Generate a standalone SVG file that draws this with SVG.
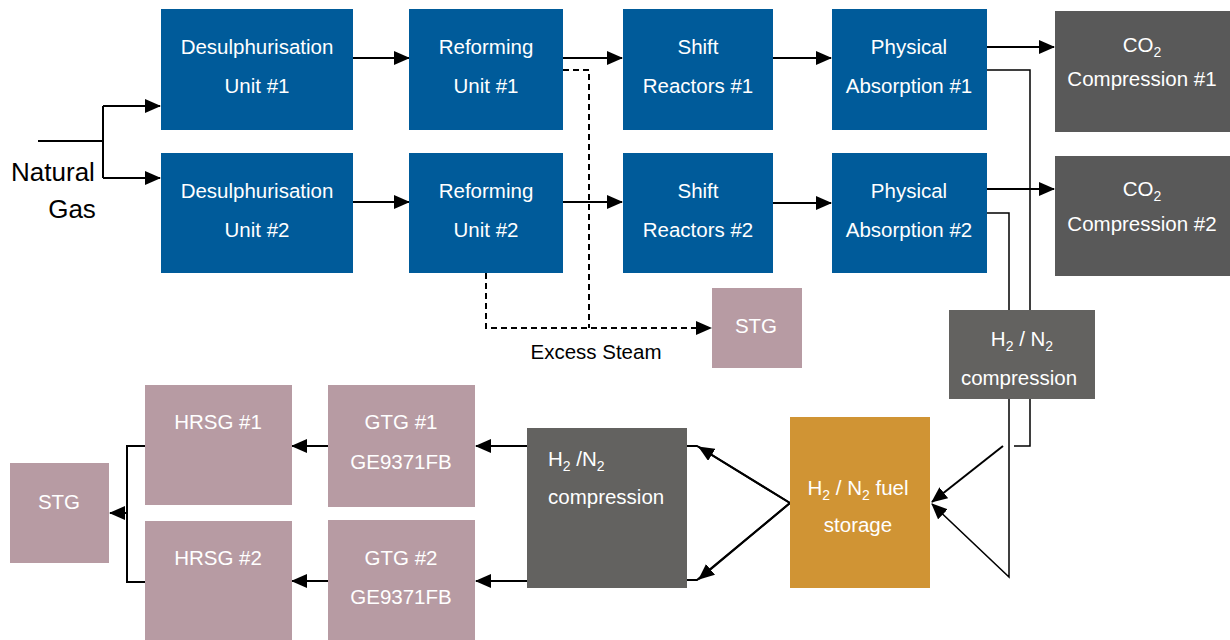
<svg xmlns="http://www.w3.org/2000/svg" width="1230" height="640" viewBox="0 0 1230 640">
<defs>
<marker id="ah" markerUnits="userSpaceOnUse" markerWidth="16" markerHeight="14" refX="15" refY="7" orient="auto">
<path d="M0,0 L16,7 L0,14 Z" fill="#000"/>
</marker>
<style>
.c{fill:none;stroke:#000;stroke-width:2}
.t{stroke-width:1.5}
.d{stroke-dasharray:6,4}
.b{fill:#005B9A}
.g{fill:#595959}
.g2{fill:#636260}
.p{fill:#B79BA3}
.o{fill:#D09434}
text{font-family:"Liberation Sans",Arial,sans-serif;font-size:20.5px;fill:#fff;text-anchor:middle}
.s{font-size:14px}
.k{fill:#000}
.l{text-anchor:start}
.n{font-size:26px}
</style>
</defs>
<rect width="1230" height="640" fill="#fff"/>
<g id="connectors">
<path class="c" d="M38,141 L103,141"/>
<path class="c" d="M103,106 L103,178"/>
<path class="c" d="M103,106 L160,106" marker-end="url(#ah)"/>
<path class="c" d="M103,178 L160,178" marker-end="url(#ah)"/>
<path class="c" d="M353,58 L409,58" marker-end="url(#ah)"/>
<path class="c" d="M353,202 L409,202" marker-end="url(#ah)"/>
<path class="c" d="M563,58 L622,58" marker-end="url(#ah)"/>
<path class="c" d="M563,202 L622,202" marker-end="url(#ah)"/>
<path class="c" d="M773,58 L831,58" marker-end="url(#ah)"/>
<path class="c" d="M773,203 L831,203" marker-end="url(#ah)"/>
<path class="c" d="M987,47 L1054,47" marker-end="url(#ah)"/>
<path class="c" d="M987,189 L1054,189" marker-end="url(#ah)"/>
<path class="c d" d="M563,70 L589,70 L589,328"/>
<path class="c d" d="M486,273 L486,328 L711,328" marker-end="url(#ah)"/>
<path class="c t" d="M987,70 L1030,70 L1030,446 L1014,446"/>
<path class="c t" d="M987,213 L1009,213 L1009,577 L932,504" marker-end="url(#ah)"/>
<path class="c" d="M1003,446 L932,502" marker-end="url(#ah)"/>
<path class="c" d="M790,503 L697,446 L687,446"/>
<path class="c" d="M790,503 L697,580 L687,580"/>
<path class="c" d="M790,503 L699,447" marker-end="url(#ah)"/>
<path class="c" d="M790,503 L699,579" marker-end="url(#ah)"/>
<path class="c" d="M527,446 L476,446" marker-end="url(#ah)"/>
<path class="c" d="M527,581 L476,581" marker-end="url(#ah)"/>
<path class="c" d="M328,446 L292,446" marker-end="url(#ah)"/>
<path class="c" d="M328,581 L292,581" marker-end="url(#ah)"/>
<path class="c" d="M145,446 L127,446 L127,582 L145,582"/>
<path class="c" d="M127,513 L110,513" marker-end="url(#ah)"/>
</g>
<g id="natural-gas"><text class="k n" x="53" y="181">Natural</text><text class="k n" x="72" y="218">Gas</text></g>
<g id="desulph1"><rect class="b" x="161" y="9" width="192" height="121"/><text x="257" y="54">Desulphurisation</text><text x="257" y="93">Unit #1</text></g>
<g id="desulph2"><rect class="b" x="161" y="153" width="192" height="120"/><text x="257" y="198">Desulphurisation</text><text x="257" y="237">Unit #2</text></g>
<g id="reform1"><rect class="b" x="409" y="9" width="154" height="121"/><text x="486" y="54">Reforming</text><text x="486" y="93">Unit #1</text></g>
<g id="reform2"><rect class="b" x="409" y="153" width="154" height="120"/><text x="486" y="198">Reforming</text><text x="486" y="237">Unit #2</text></g>
<g id="shift1"><rect class="b" x="623" y="9" width="150" height="121"/><text x="698" y="54">Shift</text><text x="698" y="93">Reactors #1</text></g>
<g id="shift2"><rect class="b" x="623" y="153" width="150" height="120"/><text x="698" y="198">Shift</text><text x="698" y="237">Reactors #2</text></g>
<g id="phys1"><rect class="b" x="832" y="9" width="155" height="121"/><text x="909" y="54">Physical</text><text x="909" y="93">Absorption #1</text></g>
<g id="phys2"><rect class="b" x="832" y="153" width="155" height="120"/><text x="909" y="198">Physical</text><text x="909" y="237">Absorption #2</text></g>
<g id="co2-1"><rect class="g" x="1055" y="11" width="175" height="121"/><text x="1142" y="52">CO<tspan class="s" dy="5">2</tspan></text><text x="1142" y="86">Compression #1</text></g>
<g id="co2-2"><rect class="g" x="1055" y="156" width="175" height="120"/><text x="1142" y="196">CO<tspan class="s" dy="5">2</tspan></text><text x="1142" y="231">Compression #2</text></g>
<g id="stg-small"><rect class="p" x="712" y="288" width="90" height="80"/><text x="756" y="333">STG</text></g>
<g id="excess-steam"><text class="k" x="596" y="359">Excess Steam</text></g>
<g id="h2n2-comp-right"><rect class="g2" x="949" y="310" width="146" height="89"/><text x="1022" y="346">H<tspan class="s" dy="5">2</tspan><tspan dy="-5"> / N</tspan><tspan class="s" dy="5">2</tspan></text><text x="1019" y="385">compression</text></g>
<g id="fuel-storage"><rect class="o" x="790" y="417" width="140" height="171"/><text x="858" y="495">H<tspan class="s" dy="5">2</tspan><tspan dy="-5"> / N</tspan><tspan class="s" dy="5">2</tspan><tspan dy="-5"> fuel</tspan></text><text x="858" y="532">storage</text></g>
<g id="h2n2-comp-left"><rect class="g2" x="527" y="428" width="160" height="160"/><text class="l" x="548" y="466">H<tspan class="s" dy="5">2</tspan><tspan dy="-5"> /N</tspan><tspan class="s" dy="5">2</tspan></text><text class="l" x="548" y="504">compression</text></g>
<g id="gtg1"><rect class="p" x="328" y="385" width="147" height="122"/><text x="401" y="429">GTG #1</text><text x="401" y="469">GE9371FB</text></g>
<g id="gtg2"><rect class="p" x="328" y="520" width="147" height="120"/><text x="401" y="565">GTG #2</text><text x="401" y="604">GE9371FB</text></g>
<g id="hrsg1"><rect class="p" x="145" y="385" width="147" height="120"/><text x="218" y="429">HRSG #1</text></g>
<g id="hrsg2"><rect class="p" x="145" y="521" width="147" height="119"/><text x="218" y="565">HRSG #2</text></g>
<g id="stg-left"><rect class="p" x="10" y="463" width="99" height="100"/><text x="59" y="509">STG</text></g>
</svg>
